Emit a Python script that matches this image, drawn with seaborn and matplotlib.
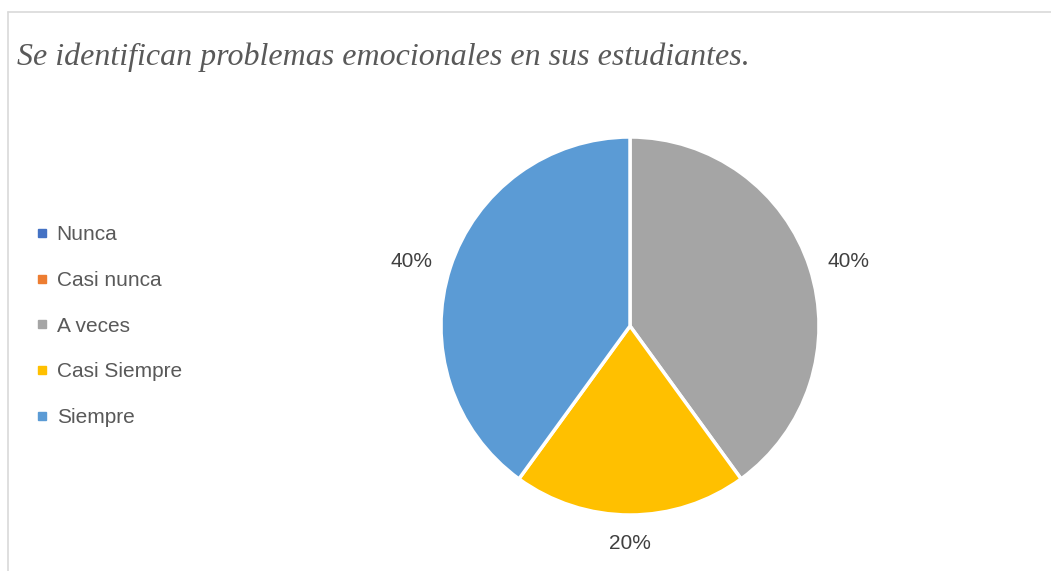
import matplotlib
matplotlib.use("Agg")
import matplotlib.pyplot as plt
from matplotlib.lines import Line2D
import numpy as np
import seaborn as sns

# data
categorias = ["Nunca", "Casi nunca", "A veces", "Casi Siempre", "Siempre"]
porcentajes = [0, 0, 40, 20, 40]
colores = ["#4472C4", "#ED7D31", "#A5A5A5", "#FFC000", "#5B9BD5"]
titulo = "Se identifican problemas emocionales en sus estudiantes."

sns.set_theme(style="white")
plt.rcParams["font.family"] = ["Liberation Sans", "DejaVu Sans"]

W, H = 1051, 571
fig = plt.figure(figsize=(W / 100, H / 100), dpi=100)
fig.patch.set_facecolor("white")

# chart border (top and left only visible)
fig.add_artist(Line2D([8 / W, 1], [1 - 12 / H, 1 - 12 / H], color="#D9D9D9", lw=1.2))
fig.add_artist(Line2D([8 / W, 8 / W], [0, 1 - 12 / H], color="#D9D9D9", lw=1.2))

# title
fig.text(17 / W, 1 - 57 / H, titulo, fontsize=23, style="italic",
         family=["Liberation Serif"], color="#595959", va="center", ha="left")

# pie axes
cx, cy, r = 630, 326, 189
ax = fig.add_axes([(cx - r) / W, (H - cy - r) / H, 2 * r / W, 2 * r / H])
wedges, textos, autotextos = ax.pie(
    porcentajes, colors=sns.color_palette(colores), startangle=90, counterclock=False,
    autopct=lambda p: f"{p:.0f}%" if p > 0 else "", pctdistance=1.2,
    wedgeprops=dict(edgecolor="white", linewidth=2.5),
    textprops=dict(fontsize=15, color="#404040"))
# place labels outside like Excel's best fit
for w, t in zip(wedges, autotextos):
    ang = np.deg2rad((w.theta1 + w.theta2) / 2)
    c = abs(np.cos(ang))
    d = 1.15 + 0.07 * c
    t.set_position((d * np.cos(ang), d * np.sin(ang) - 0.035 * c))
    t.set_ha("center")
    t.set_va("center")
ax.set_aspect("equal")
ax.set_xlim(-1, 1)
ax.set_ylim(-1, 1)
ax.axis("off")

# legend
handles = [Line2D([0], [0], marker="s", color="none", markerfacecolor=c,
                  markeredgecolor=c, markersize=6) for c in colores]
fig.legend(handles, categorias, loc="center left", bbox_to_anchor=(17 / W, 1 - 326 / H),
           frameon=False, fontsize=15, labelcolor="#595959", handlelength=0.6,
           handletextpad=0.4, labelspacing=1.28)

fig.savefig("out.png", dpi=100)
